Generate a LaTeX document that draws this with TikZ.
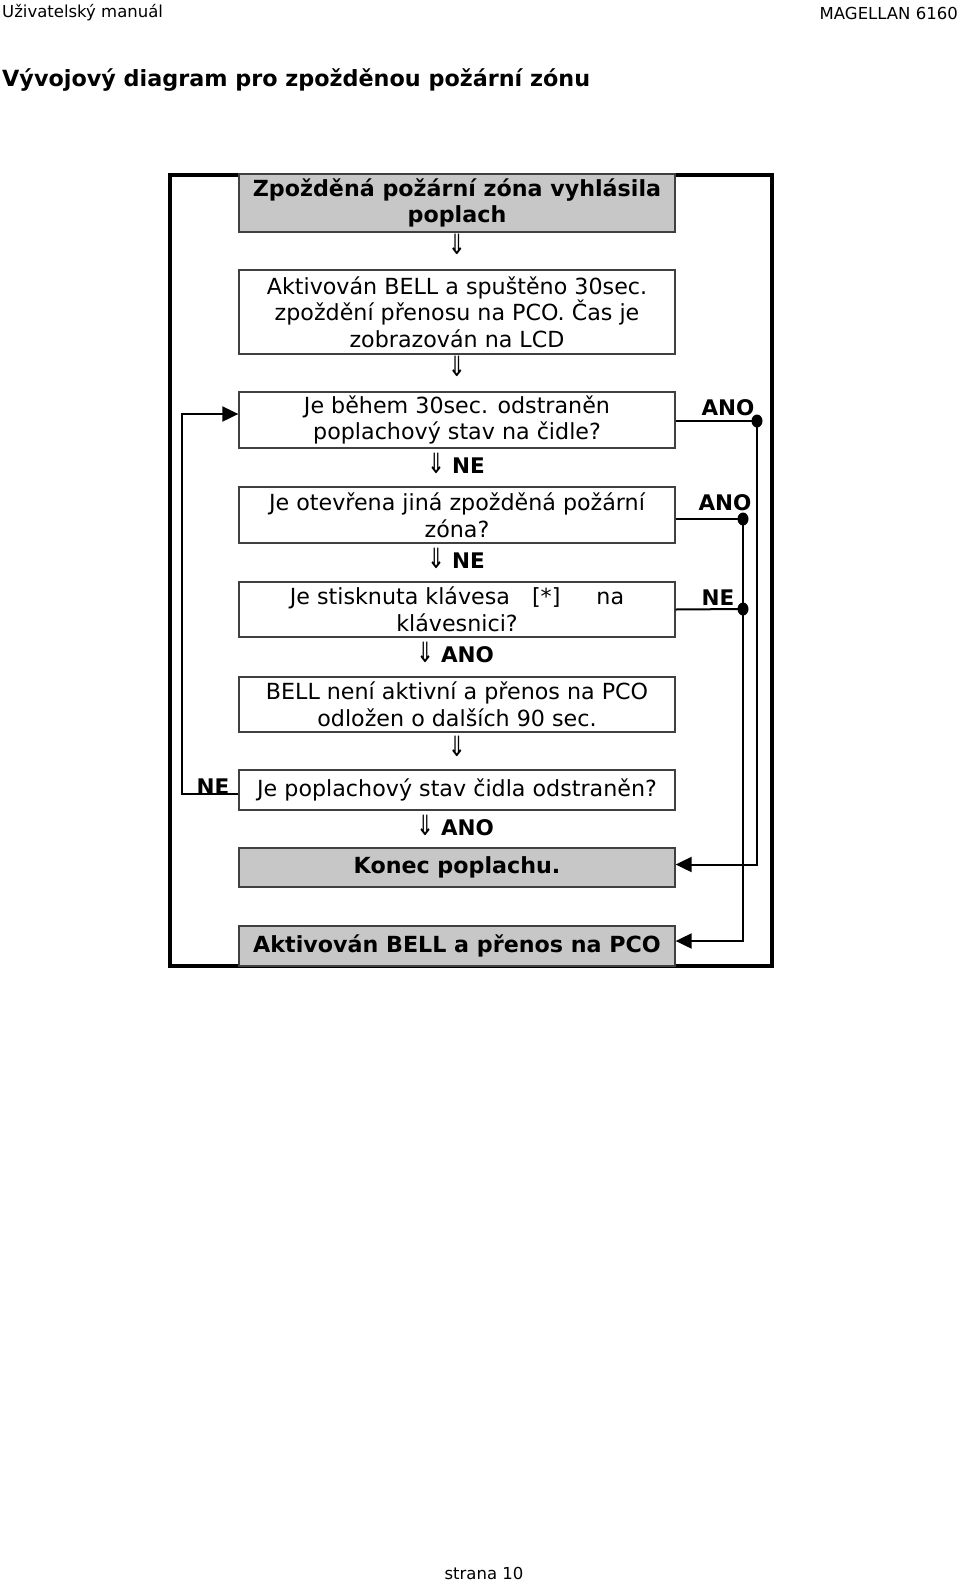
\documentclass[tikz,border=0pt]{standalone}
\usepackage{fontspec}
\setmainfont{DejaVu Sans}
\usetikzlibrary{arrows.meta,shapes.geometric}
\newcommand{\dnarr}{\scalebox{1}[1.3]{⇓}}
\begin{document}
\begin{tikzpicture}[x=1pt,y=-1pt,
  box/.style={draw=black!75, line width=1.3pt, fill=white, minimum width=436pt, inner sep=0pt, align=center, font=\fontsize{22.2}{26.7}\selectfont},
  graybox/.style={box, fill=black!22, font=\fontsize{22.2}{26.7}\selectfont\bfseries},
  dn/.style={font=\fontsize{21.5}{26.7}\selectfont, inner sep=0pt},
  lbl/.style={font=\fontsize{21.5}{26.7}\selectfont\bfseries, inner sep=0pt},
  conn/.style={line width=2pt},
  tip/.style={-{Triangle[length=16pt,width=15pt]}},
  dot/.style={fill=black, ellipse, minimum width=11pt, minimum height=13pt, inner sep=0pt}
]
\useasboundingbox (0,0) rectangle (960,1582);
% header
\node[anchor=west, inner sep=0pt, font=\fontsize{16.5}{20}\selectfont] (hl) at (2,13) {Uživatelský manuál};
\node[anchor=east, inner sep=0pt, font=\fontsize{16.5}{20}\selectfont] (hr) at (958,13) {MAGELLAN 6160};
\node[anchor=west, inner sep=0pt, font=\fontsize{22.3}{26}\selectfont\bfseries] (title) at (2,80) {Vývojový diagram pro zpožděnou požární zónu};
\node[inner sep=0pt, font=\fontsize{16.5}{20}\selectfont] (page) at (484,1573) {strana 10};
% frame
\draw[line width=4pt] (170,175) rectangle (772,966);
% boxes
\node[graybox, minimum height=58pt] (b1) at (457,203) {Zpožděná požární zóna vyhlásila\\poplach};
\node[dn] (a1) at (457,244) {\dnarr};
\node[box, minimum height=84pt] (b2) at (457,312) {Aktivován BELL a spuštěno 30sec.\\zpoždění přenosu na PCO. Čas je\\zobrazován na LCD};
\node[dn] (a2) at (457,366) {\dnarr};
\node[box, minimum height=56pt] (b3) at (457,420) {Je během 30sec. odstraněn\\poplachový stav na čidle?};
\node[dn, anchor=west] (a3) at (427,463) {\dnarr{} \textbf{NE}};
\node[box, minimum height=56pt] (b4) at (457,515) {Je otevřena jiná zpožděná požární\\zóna?};
\node[dn, anchor=west] (a4) at (427,558) {\dnarr{} \textbf{NE}};
\node[box, minimum height=55pt] (b5) at (457,609.5) {Je stisknuta klávesa\hspace{22pt}[*]\hspace{36pt}na\\klávesnici?};
\node[dn, anchor=west] (a5) at (416,652) {\dnarr{} \textbf{ANO}};
\node[box, minimum height=55pt] (b6) at (457,704.5) {BELL není aktivní a přenos na PCO\\odložen o dalších 90 sec.};
\node[dn] (a6) at (457,746) {\dnarr};
\node[box, minimum height=40pt] (b7) at (457,790) {Je poplachový stav čidla odstraněn?};
\node[dn, anchor=west] (a7) at (416,825) {\dnarr{} \textbf{ANO}};
\node[graybox, minimum height=39pt] (b8) at (457,867.5) {Konec poplachu.};
\node[graybox, minimum height=40pt] (b9) at (457,946) {Aktivován BELL a přenos na PCO};
% right side labels and connectors
\node[lbl] (l1) at (728,408) {ANO};
\node[lbl] (l2) at (725,503) {ANO};
\node[lbl] (l3) at (718,598) {NE};
\node[dot] (d1) at (757,421) {};
\node[dot] (d2) at (743,519) {};
\node[dot] (d3) at (743,609) {};
\draw[conn] ([yshift=-1pt]b3.east) -- (d1.center);
\draw[conn] ([yshift=-4pt]b4.east) -- (d2.center);
\draw[conn] ([yshift=0pt]b5.east) -- (d3.center);
\draw[conn, tip] (d1.center) |- ([yshift=3pt]b8.east);
\draw[conn, tip] (d2.center) |- ([yshift=5pt]b9.east);
% left loop
\node[lbl] (l4) at (213,787) {NE};
\coordinate (c1) at (182,794);
\coordinate (c2) at (182,414);
\draw[conn, tip] ([yshift=-4pt]b7.west) -- (c1) -- (c2) -- ([yshift=6pt]b3.west);
\end{tikzpicture}
\end{document}
